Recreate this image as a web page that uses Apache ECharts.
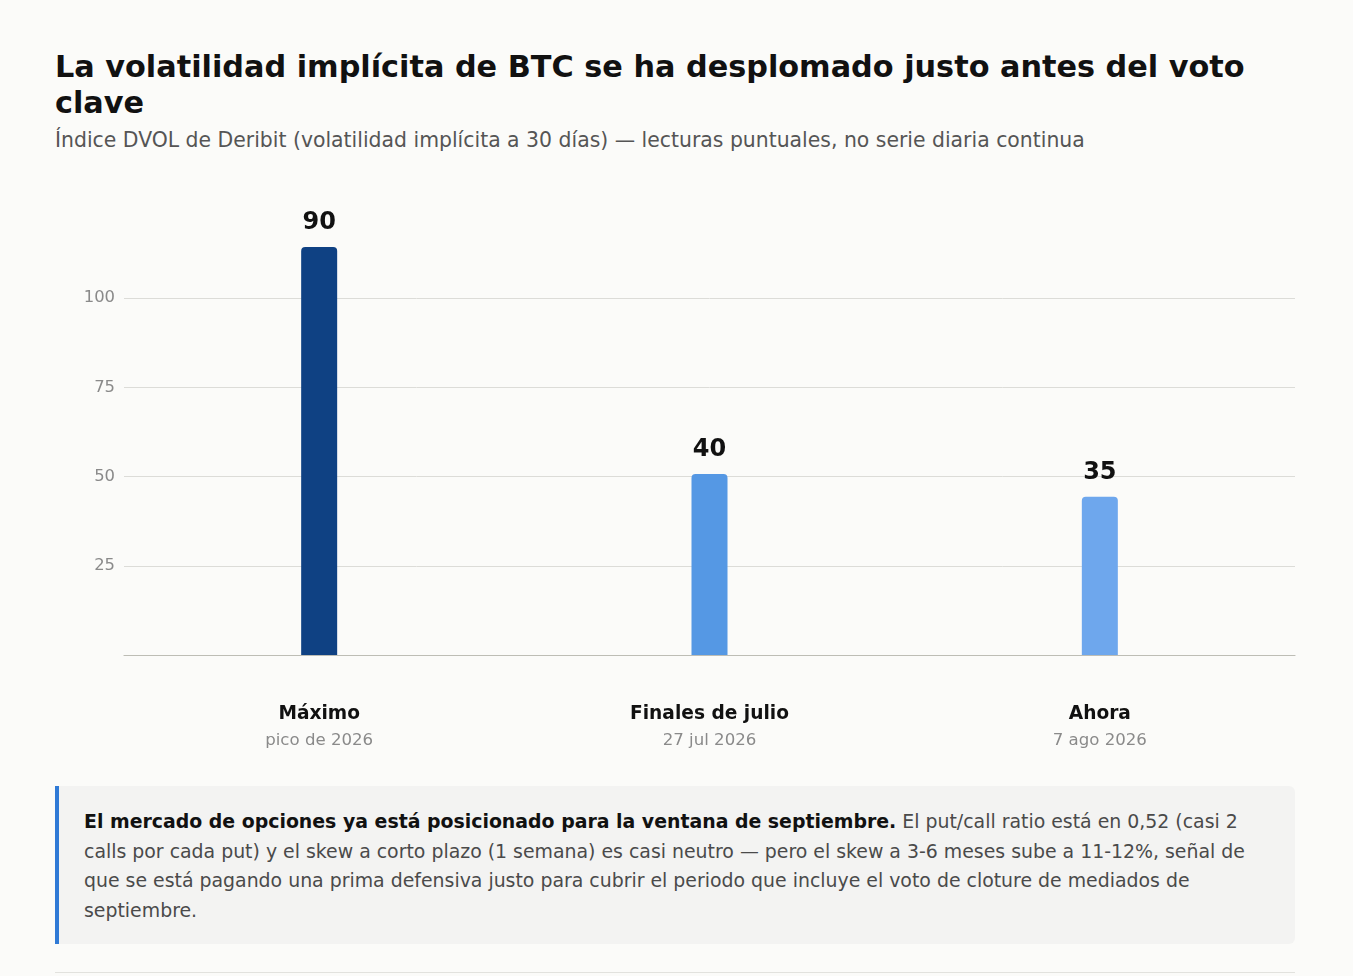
<!DOCTYPE html>
<html>
<head>
<meta charset="utf-8">
<script src="https://cdn.jsdelivr.net/npm/echarts@6/dist/echarts.min.js"></script>
<style>
  html, body { margin: 0; padding: 0; background: #fbfbf9; width: 1353px; height: 976px; overflow: hidden; font-family: "DejaVu Sans", sans-serif; }
  #title { position: absolute; left: 55px; top: 49px; width: 1240px; margin: 0; font-size: 30.3px; line-height: 36px; font-weight: bold; color: #111; }
  #subtitle { position: absolute; left: 55px; top: 126px; width: 1240px; margin: 0; font-size: 20.4px; line-height: 28px; color: #555; }
  #chart { position: absolute; left: 0; top: 170px; width: 1353px; height: 600px; }
  #note { position: absolute; left: 55px; top: 786px; width: 1240px; height: 158px; box-sizing: border-box; background: #f3f3f2; border-left: 4px solid #2f7ad6; border-radius: 0 6px 6px 0; padding: 21px 30px 0 25px; font-size: 18.9px; line-height: 29.5px; color: #4a4a4a; }
  #note b { color: #111; }
  #rule { position: absolute; left: 55px; top: 972px; width: 1240px; height: 0; border-top: 1px solid #e2e2de; }
</style>
</head>
<body>
<h1 id="title">La volatilidad implícita de BTC se ha desplomado justo antes del voto clave</h1>
<p id="subtitle">Índice DVOL de Deribit (volatilidad implícita a 30 días) — lecturas puntuales, no serie diaria continua</p>
<div id="chart"></div>
<div id="note"><b>El mercado de opciones ya está posicionado para la ventana de septiembre.</b> El put/call ratio está en 0,52 (casi 2 calls por cada put) y el skew a corto plazo (1 semana) es casi neutro — pero el skew a 3-6 meses sube a 11-12%, señal de que se está pagando una prima defensiva justo para cubrir el periodo que incluye el voto de cloture de mediados de septiembre.</div>
<div id="rule"></div>
<script>
const categories = ["Máximo", "Finales de julio", "Ahora"];
const subLabels = ["pico de 2026", "27 jul 2026", "7 ago 2026"];
// bar heights as read against the drawn y-axis
const barHeights = [114.3, 50.7, 44.3];
// value labels printed above the bars
const valueLabels = ["90", "40", "35"];
const barColors = ["#0f4183", "#5598e4", "#6ea7ed"];
const yTicks = [0, 25, 50, 75, 100];

const chart = echarts.init(document.getElementById('chart'));
chart.setOption({
  animation: false,
  textStyle: { fontFamily: "DejaVu Sans" },
  grid: { left: 124, right: 58, top: 128, bottom: 115 },
  xAxis: {
    type: 'category',
    data: categories,
    axisLine: { show: true, lineStyle: { color: '#bdbdb5', width: 1.2 } },
    axisTick: { show: false },
    axisLabel: {
      margin: 46,
      formatter: function (v, i) { return '{a|' + v + '}\n{b|' + subLabels[i] + '}'; },
      rich: {
        a: { fontSize: 18.6, fontWeight: 'bold', color: '#111', fontFamily: 'DejaVu Sans', lineHeight: 27 },
        b: { fontSize: 16.6, color: '#8a8a8a', fontFamily: 'DejaVu Sans', lineHeight: 26 }
      }
    }
  },
  yAxis: {
    type: 'value',
    min: yTicks[0],
    max: yTicks[yTicks.length - 1],
    interval: 25,
    axisLine: { show: false },
    axisTick: { show: false },
    splitLine: { show: true, lineStyle: { color: '#dcdcd8', width: 1 } },
    axisLabel: {
      margin: 9,
      fontSize: 16.4,
      color: '#8a8a8a',
      fontFamily: 'DejaVu Sans',
      formatter: function (v) { return v === 0 ? '' : String(v); }
    }
  },
  series: [{
    type: 'bar',
    clip: false,
    barWidth: 36,
    barCategoryGap: '0%',
    data: barHeights.map(function (v, i) {
      return { value: v, itemStyle: { color: barColors[i], borderRadius: [4, 4, 0, 0] } };
    }),
    label: {
      show: true,
      position: 'top',
      distance: 12,
      fontSize: 24,
      fontWeight: 'bold',
      color: '#111',
      fontFamily: 'DejaVu Sans',
      formatter: function (p) { return valueLabels[p.dataIndex]; }
    }
  }]
});
</script>
</body>
</html>
